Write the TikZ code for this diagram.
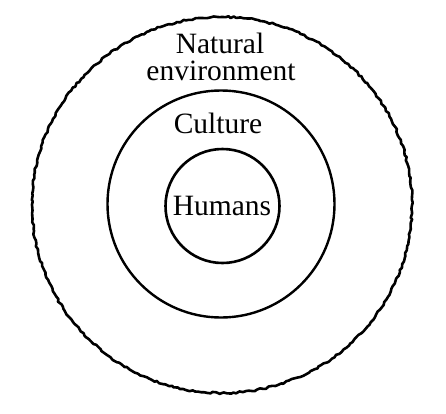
\documentclass[tikz,border=0pt]{standalone}
\usepackage{fontspec}
\setmainfont{Liberation Serif}
\usetikzlibrary{decorations.pathmorphing}
\begin{document}
\begin{tikzpicture}[x=1pt,y=-1pt,
  ring/.style={draw=black,circle,inner sep=0pt},
  label/.style={font=\fontsize{29.5}{27}\selectfont,anchor=base,inner sep=0pt}]
\useasboundingbox (0,0) rectangle (446,413);
\fill[white] (0,0) rectangle (446,413);
\draw[line width=2.6pt,line join=round,decorate,decoration={random steps,segment length=3pt,amplitude=0.9pt}] (222,205) circle[x radius=190, y radius=188];
\coordinate (outer) at (222,205);
\node[ring,line width=2.4pt,minimum size=227pt] (culture) at (221,204) {};
\node[ring,line width=2.6pt,minimum size=114pt] (humans) at (222.5,206) {};
\node[label] (nat) at (220,53) {Natural};
\node[label] (env) at (221,80) {environment};
\node[label] (cul) at (218,133) {Culture};
\node[label] (hum) at (222,215) {Humans};
\end{tikzpicture}
\end{document}
